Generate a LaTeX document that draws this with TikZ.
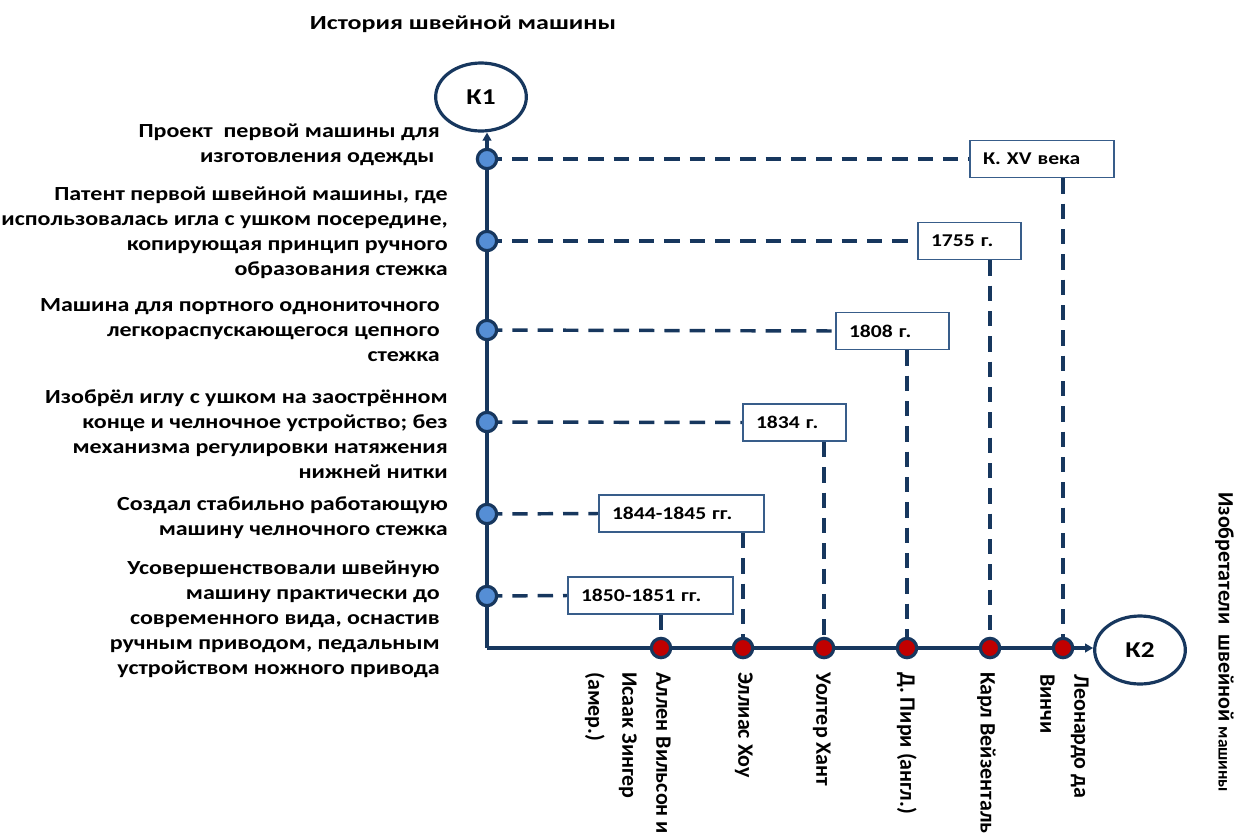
\documentclass[tikz,border=0pt]{standalone}
\usepackage{fontspec}
\setmainfont{Carlito}
\newfontfamily\ttlfam[FakeStretch=1.3]{Carlito}
\newfontfamily\lftfam[FakeStretch=1.2]{Carlito}
\newfontfamily\rotfam[FakeStretch=1.0]{Carlito}
\usetikzlibrary{arrows.meta,shapes.geometric}
\definecolor{navy}{HTML}{17375E}
\definecolor{dotblue}{HTML}{558ED5}
\definecolor{dotred}{HTML}{C00000}
\definecolor{boxline}{HTML}{385D8A}
\begin{document}
\begin{tikzpicture}[x=0.75pt,y=-0.75pt,
  axis/.style={draw=navy, line width=2.6pt},
  conn/.style={draw=navy, line width=2.6pt, dash pattern=on 11.5pt off 7.5pt},
  bdot/.style={circle, draw=navy, fill=dotblue, line width=2.4pt, minimum size=14.5pt, inner sep=0pt},
  rdot/.style={bdot, fill=dotred},
  kell/.style={ellipse, draw=navy, line width=2.4pt, minimum width=68pt, minimum height=51pt, inner sep=0pt, font=\lftfam\bfseries\fontsize{17}{19}\selectfont},
  datebox/.style={draw=boxline, fill=white, line width=1.1pt, inner xsep=9.75pt, inner ysep=0pt, minimum height=28pt, align=left, text width=#1, font=\lftfam\bfseries\fontsize{13.5}{16}\selectfont},
  desc/.style={anchor=east, align=right, inner sep=0pt, font=\lftfam\bfseries\fontsize{15}{18.75}\selectfont},
  lbl/.style={rotate=-90, anchor=north west, align=left, inner sep=0pt, font=\rotfam\bfseries\fontsize{16.5}{25.5}\selectfont}
]
\useasboundingbox (0,0) rectangle (1235,836);

% title
\node[font=\ttlfam\bfseries\fontsize{15}{18}\selectfont] (title) at (463,24) {История швейной машины};

% K nodes
\node[kell] (K1) at (481,97) {К1};
\node[kell] (K2) at (1140,650) {К2};
\coordinate (C) at (487,648);

% dots (positions)
\coordinate (b1) at (487,159);
\coordinate (b2) at (487,241);
\coordinate (b3) at (487,330);
\coordinate (b4) at (487,422);
\coordinate (b5) at (487,514);
\coordinate (b6) at (487,596);
\coordinate (r1) at (661,648);
\coordinate (r2) at (743,648);
\coordinate (r3) at (824,648);
\coordinate (r4) at (907,648);
\coordinate (r5) at (990,648);
\coordinate (r6) at (1063,648);

% date boxes (positions)
\coordinate (d1c) at (1042,159);
\coordinate (d2c) at (969.5,241);
\coordinate (d3c) at (892.5,331);
\coordinate (d4c) at (794.5,422.5);
\coordinate (d5c) at (681.5,513.5);
\coordinate (d6c) at (650.5,595.5);
\node[datebox=88.5pt, draw=none, fill=none, text opacity=0] (d1) at (d1c) {К. XV века};
\node[datebox=57.75pt, draw=none, fill=none, text opacity=0] (d2) at (d2c) {1755 г.};
\node[datebox=65.25pt, draw=none, fill=none, text opacity=0] (d3) at (d3c) {1808 г.};
\node[datebox=57.75pt, draw=none, fill=none, text opacity=0] (d4) at (d4c) {1834 г.};
\node[datebox=104.25pt, draw=none, fill=none, text opacity=0] (d5) at (d5c) {1844-1845 гг.};
\node[datebox=104.25pt, draw=none, fill=none, text opacity=0] (d6) at (d6c) {1850-1851 гг.};

% dashed connectors
\draw[conn] (b1) -- (d1.west);
\draw[conn] (b2) -- (d2.west);
\draw[conn] (b3) -- (d3.west);
\draw[conn] (b4) -- (d4.west);
\draw[conn] (b5) -- (d5.west);
\draw[conn] (b6) -- (d6.west);
\draw[conn] (d1.south -| r6) -- (r6);
\draw[conn] (d2.south -| r5) -- (r5);
\draw[conn] (d3.south -| r4) -- (r4);
\draw[conn] (d4.south -| r3) -- (r3);
\draw[conn] (d5.south -| r2) -- (r2);
\draw[conn] (d6.south -| r1) -- (r1);

% axes
\draw[axis, -{Triangle[length=6pt,width=6.5pt]}] (C) -- (C |- K1.south);
\draw[axis, -{Triangle[length=6pt,width=6.5pt]}] (C) -- (K2.west |- C);

% dots on top
\node[bdot] (B1) at (b1) {};
\node[bdot] (B2) at (b2) {};
\node[bdot] (B3) at (b3) {};
\node[bdot] (B4) at (b4) {};
\node[bdot] (B5) at (b5) {};
\node[bdot] (B6) at (b6) {};
\node[rdot] (R1) at (r1) {};
\node[rdot] (R2) at (r2) {};
\node[rdot] (R3) at (r3) {};
\node[rdot] (R4) at (r4) {};
\node[rdot] (R5) at (r5) {};
\node[rdot] (R6) at (r6) {};

% visible date boxes
\node[datebox=88.5pt] (D1) at (d1c) {К. XV века};
\node[datebox=57.75pt] (D2) at (d2c) {1755 г.};
\node[datebox=65.25pt] (D3) at (d3c) {1808 г.};
\node[datebox=57.75pt] (D4) at (d4c) {1834 г.};
\node[datebox=104.25pt] (D5) at (d5c) {1844-1845 гг.};
\node[datebox=104.25pt] (D6) at (d6c) {1850-1851 гг.};

% left descriptions
\node[desc] (t1) at (440,145) {Проект\ \ первой машины для\\изготовления одежды\ \ };
\node[desc] (t2) at (448,233) {Патент первой швейной машины, где\\использовалась игла с ушком посередине,\\копирующая принцип ручного\\образования стежка};
\node[desc] (t3) at (440,330) {Машина для портного однониточного\\легкораспускающегося цепного\\стежка};
\node[desc] (t4) at (448,434) {Изобрёл иглу с ушком на заострённом\\конце и челночное устройство; без\\механизма регулировки натяжения\\нижней нитки};
\node[desc] (t5) at (448,518) {Создал стабильно работающую\\машину челночного стежка};
\node[desc] (t6) at (440,619) {Усовершенствовали швейную\\машину практически до\\современного вида, оснастив\\ручным приводом, педальным\\устройством ножного привода};

% bottom labels
\node[lbl] (n1) at (671,672) {Аллен Вильсон и\\Исаак Зингер\\(амер.)};
\node[lbl] (n2) at (753,672) {Эллиас Хоу};
\node[lbl] (n3) at (831,672) {Уолтер Хант};
\node[lbl] (n4) at (917,672) {Д. Пири (англ.)};
\node[lbl] (n5) at (996,672) {Карл Вейзенталь};
\node[lbl] (n6) at (1089,674) {Леонардо да\\Винчи};

% right label
\node[rotate=-90, anchor=north west, inner sep=0pt, font=\rotfam\bfseries] (side) at (1234,492) {\fontsize{16.5}{18}\selectfont Изобретатели\ \ швейной \fontsize{13}{15}\selectfont машины};
\end{tikzpicture}
\end{document}
